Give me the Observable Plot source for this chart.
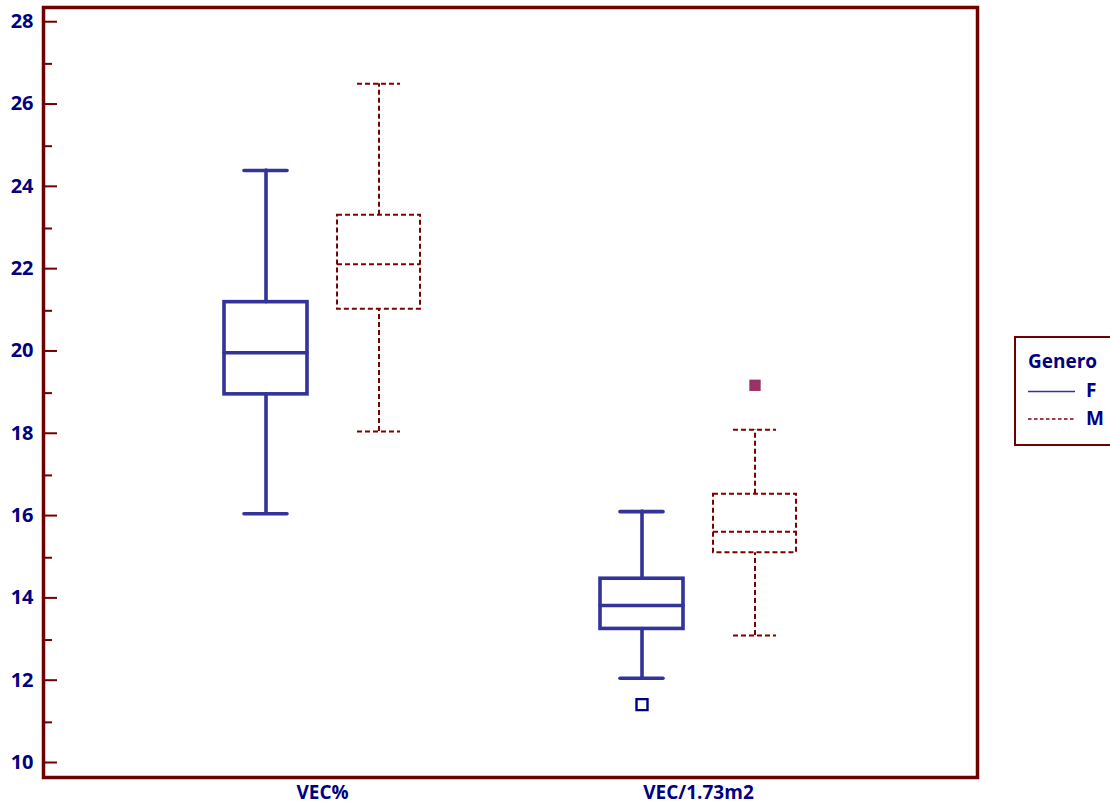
<!DOCTYPE html>
<html>
<head>
<meta charset="utf-8">
<script src="https://cdn.jsdelivr.net/npm/d3@7"></script>
<script src="https://cdn.jsdelivr.net/npm/@observablehq/plot@0.6"></script>
<style>
  body { margin: 0; background: #fff; }
  #chart { position: relative; width: 1110px; height: 810px; overflow: hidden; }
  #chart svg { position: absolute; left: 0; top: 0; }
</style>
</head>
<body>
<div id="chart"></div>
<script>
// Measurement groups and gender series
const categories = ["VEC%", "VEC/1.73m2"];
const generos = ["F", "M"];

// One entry per box: [VEC% F, VEC% M, VEC/1.73m2 F, VEC/1.73m2 M]
const boxCategory = ["VEC%", "VEC%", "VEC/1.73m2", "VEC/1.73m2"];
const boxGenero   = ["F", "M", "F", "M"];
const whiskerLow  = [16.07, 18.07, 12.07, 13.11];
const quartile1   = [18.97, 21.04, 13.27, 15.12];
const medians     = [19.98, 22.13, 13.84, 15.63];
const quartile3   = [21.21, 23.32, 14.49, 16.54];
const whiskerHigh = [24.41, 26.52, 16.12, 18.11];

// Outlying observations
const outlierCategory = ["VEC/1.73m2", "VEC/1.73m2"];
const outlierGenero   = ["F", "M"];
const outlierValue    = [11.43, 19.19];

// Axis ticks
const majorTicks = [10, 12, 14, 16, 18, 20, 22, 24, 26, 28];
const minorTicks = [11, 13, 15, 17, 19, 21, 23, 25, 27];

const boxes = boxGenero.map((g, i) => ({
  category: boxCategory[i], genero: g,
  low: whiskerLow[i], q1: quartile1[i], median: medians[i],
  q3: quartile3[i], high: whiskerHigh[i]
}));
const outliers = outlierGenero.map((g, i) => ({
  category: outlierCategory[i], genero: g, value: outlierValue[i]
}));

const NAVY = "#000080";
const FRAME = "#700000";
const FONT = "'Open Sans', 'Noto Sans', sans-serif";
const FONT_SIZE = 19;
const styleF = { stroke: "#333399", strokeWidth: 3.6, strokeLinecap: "round" };
const styleM = { stroke: "#800000", strokeWidth: 2, strokeDasharray: "5,3" };

// Shared layout so both layers use identical y scales
const layout = {
  width: 1110,
  height: 810,
  marginLeft: 43,
  marginRight: 133,
  marginTop: 7,
  marginBottom: 33
};
const yScale = { domain: [9.66, 28.37] };

// Background layer: plot frame and the value axis with inward ticks
const axisLayer = Plot.plot({
  ...layout,
  style: { fontFamily: FONT, background: "#fff" },
  y: yScale,
  marks: [
    Plot.axisY(minorTicks, {
      anchor: "left", tickSize: -9, tickFormat: () => "",
      stroke: FRAME, strokeWidth: 2, label: null
    }),
    Plot.axisY(majorTicks, {
      anchor: "left", tickSize: -14, tickPadding: 24, dy: -1,
      stroke: FRAME, strokeWidth: 2, fill: NAVY,
      fontSize: 20, fontWeight: "bold", label: null
    }),
    Plot.frame({ stroke: FRAME, strokeWidth: 3.5 })
  ]
});

function boxMarks(genero, style) {
  const filter = d => d.genero === genero;
  const base = { filter, fx: "category", x: "genero" };
  return [
    Plot.ruleX(boxes, { ...base, y1: "low", y2: "q1", ...style }),
    Plot.ruleX(boxes, { ...base, y1: "q3", y2: "high", ...style }),
    Plot.tickY(boxes, { ...base, y: "low", insetLeft: 20, insetRight: 20, ...style }),
    Plot.tickY(boxes, { ...base, y: "high", insetLeft: 20, insetRight: 20, ...style }),
    Plot.barY(boxes, { ...base, y1: "q1", y2: "q3", fill: "none", ...style }),
    Plot.tickY(boxes, { ...base, y: "median", ...style })
  ];
}

// Foreground layer: boxes faceted by measurement, gender within each group
const boxLayer = Plot.plot({
  ...layout,
  style: { fontFamily: FONT, background: "transparent" },
  fx: { domain: categories, paddingInner: 0.394, paddingOuter: 0.439, label: null },
  x: { domain: generos, paddingInner: 0.263, paddingOuter: 0.1316, axis: null },
  y: { ...yScale, axis: null },
  marks: [
    ...boxMarks("F", styleF),
    ...boxMarks("M", styleM),
    Plot.dot(outliers, {
      filter: d => d.genero === "F", fx: "category", x: "genero", y: "value",
      symbol: "square", r: 6.2, fill: "none", stroke: NAVY, strokeWidth: 2.4
    }),
    Plot.dot(outliers, {
      filter: d => d.genero === "M", fx: "category", x: "genero", y: "value",
      symbol: "square", r: 6.4, fill: "#993366", stroke: "none"
    }),
    Plot.axisFx({
      anchor: "bottom", tickSize: 0, tickPadding: 8, label: null,
      fill: NAVY, fontSize: FONT_SIZE, fontWeight: "bold"
    })
  ]
});

// Legend for the gender series, drawn in the right margin
const lg = d3.select(boxLayer).append("g")
  .attr("font-family", FONT)
  .attr("font-weight", "bold")
  .attr("font-size", FONT_SIZE)
  .attr("text-anchor", "start")
  .attr("fill", NAVY);
lg.append("rect")
  .attr("x", 1015).attr("y", 337).attr("width", 120).attr("height", 108)
  .attr("fill", "#fff").attr("stroke", FRAME).attr("stroke-width", 2);
lg.append("text").attr("x", 1028).attr("y", 368).text("Genero");
lg.append("line").attr("x1", 1028).attr("x2", 1075).attr("y1", 391.5).attr("y2", 391.5)
  .attr("stroke", "#333399").attr("stroke-width", 1.6);
lg.append("text").attr("x", 1086).attr("y", 397).text(generos[0]);
lg.append("line").attr("x1", 1028).attr("x2", 1075).attr("y1", 419).attr("y2", 419)
  .attr("stroke", "#800000").attr("stroke-width", 1.6).attr("stroke-dasharray", "3.5,2.5");
lg.append("text").attr("x", 1086).attr("y", 424.5).text(generos[1]);

const host = document.getElementById("chart");
host.appendChild(axisLayer);
host.appendChild(boxLayer);
</script>
</body>
</html>
